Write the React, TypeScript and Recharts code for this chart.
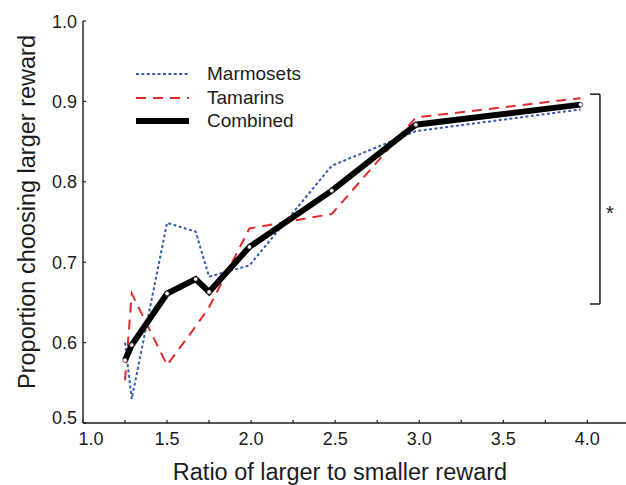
import { LineChart, Line, XAxis, YAxis, ReferenceLine } from "recharts";

// values
const ratios = [1.25, 1.29, 1.5, 1.67, 1.75, 1.99, 2.48, 2.98, 3.96];
const marmosets = [0.6, 0.53, 0.749, 0.738, 0.682, 0.696, 0.82, 0.863, 0.89];
const tamarins = [0.553, 0.661, 0.572, 0.62, 0.644, 0.742, 0.76, 0.88, 0.904];
const combined = [0.578, 0.597, 0.661, 0.679, 0.663, 0.719, 0.789, 0.871, 0.896];

const xTicks = [1, 1.25, 1.5, 1.75, 2, 2.25, 2.5, 2.75, 3, 3.25, 3.5, 3.75, 4];
const yTicks = [0.5, 0.6, 0.7, 0.8, 0.9, 1.0];

// significance bracket (data units)
const bracketX = 4.075;
const bracketArm = 4.016;
const bracketTop = 0.909;
const bracketBottom = 0.648;

const FONT = "'Liberation Sans', Arial, Helvetica, sans-serif";
const INK = "#1c1c1c";
const BLUE = "#2f5fae";
const RED = "#e02b2b";

const data = ratios.map((x, i) => ({
  x,
  marmosets: marmosets[i],
  tamarins: tamarins[i],
  combined: combined[i],
}));

const series = [
  { key: "marmosets", name: "Marmosets", color: BLUE, width: 2, dash: "3 2.4" },
  { key: "tamarins", name: "Tamarins", color: RED, width: 2, dash: "10 7" },
  { key: "combined", name: "Combined", color: "#000", width: 6, dash: undefined },
];

const XTick = ({ x, y, payload }: any) => {
  const v = payload.value;
  const major = Math.abs(v * 2 - Math.round(v * 2)) < 1e-6;
  return (
    <g>
      <line x1={x} x2={x} y1={y} y2={y - 3} stroke={INK} strokeWidth={1.2} />
      {major && (
        <text x={x + (v === 1 ? 8 : 0)} y={y + 22} textAnchor="middle" fontSize={18} fill={INK} fontFamily={FONT}>
          {v.toFixed(1)}
        </text>
      )}
    </g>
  );
};

const YTick = ({ x, y, payload }: any) => {
  const v = payload.value;
  return (
    <g>
      <line x1={x} x2={x + 3} y1={y} y2={y} stroke={INK} strokeWidth={1.2} />
      <text x={x - 6} y={y + 6.5 - (v === 0.5 ? 6 : 0)} textAnchor="end" fontSize={18} fill={INK} fontFamily={FONT}>
        {v.toFixed(1)}
      </text>
    </g>
  );
};

const XLabel = ({ viewBox }: any) => (
  <text x={viewBox.x + 257} y={viewBox.y + 57} textAnchor="middle" fontSize={23.5} fill={INK} fontFamily={FONT}>
    Ratio of larger to smaller reward
  </text>
);

const YLabel = ({ viewBox }: any) => {
  const cx = viewBox.x + 35;
  const cy = viewBox.y + viewBox.height / 2 - 10;
  return (
    <text x={cx} y={cy} transform={`rotate(-90 ${cx} ${cy})`} textAnchor="middle" fontSize={23.5} fill={INK} fontFamily={FONT}>
      Proportion choosing larger reward
    </text>
  );
};

const LegendBox = () => (
  <div style={{ position: "absolute", left: 136, top: 62, fontFamily: FONT, fontSize: 19, color: INK }}>
    {series.map((s) => (
      <div key={s.key} style={{ display: "flex", alignItems: "center", height: 23.8 }}>
        <svg width={53} height={10} style={{ marginRight: 18 }}>
          <line x1={0} x2={53} y1={5} y2={5} stroke={s.color} strokeWidth={s.width} strokeDasharray={s.dash} />
        </svg>
        <span>{s.name}</span>
      </div>
    ))}
  </div>
);

export default function App() {
  return (
    <div style={{ position: "absolute", left: 0, top: 0, width: 626, height: 485, background: "#fff" }}>
      <LineChart width={626} height={485} data={data} margin={{ top: 21, right: 0, bottom: 0, left: 0 }}>
        <XAxis
          type="number"
          dataKey="x"
          domain={[1, 4.23]}
          ticks={xTicks}
          tick={<XTick />}
          tickLine={false}
          tickSize={0}
          tickMargin={0}
          height={62}
          stroke={INK}
          strokeWidth={1.4}
          label={<XLabel />}
        />
        <YAxis
          type="number"
          domain={[0.5, 1.0]}
          ticks={yTicks}
          tick={<YTick />}
          tickLine={false}
          tickSize={0}
          tickMargin={0}
          width={83}
          stroke={INK}
          strokeWidth={1.4}
          label={<YLabel />}
        />
        {series.map((s) => (
          <Line
            key={s.key}
            type="linear"
            dataKey={s.key}
            name={s.name}
            stroke={s.color}
            strokeWidth={s.width}
            strokeDasharray={s.dash}
            dot={s.key === "combined" ? { r: 2.2, fill: "#fff", stroke: "#000", strokeWidth: 0.6 } : false}
            activeDot={false}
            isAnimationActive={false}
          />
        ))}
        <ReferenceLine
          segment={[{ x: bracketX, y: bracketTop }, { x: bracketX, y: bracketBottom }]}
          stroke={INK}
          strokeWidth={1.5}
          label={{ value: "*", position: "right", offset: 6, dy: 14, fontSize: 20, fill: INK, fontFamily: FONT }}
        />
        <ReferenceLine
          segment={[{ x: bracketArm, y: bracketTop }, { x: bracketX, y: bracketTop }]}
          stroke={INK}
          strokeWidth={1.5}
        />
        <ReferenceLine
          segment={[{ x: bracketArm, y: bracketBottom }, { x: bracketX, y: bracketBottom }]}
          stroke={INK}
          strokeWidth={1.5}
        />
      </LineChart>
      <LegendBox />
    </div>
  );
}
